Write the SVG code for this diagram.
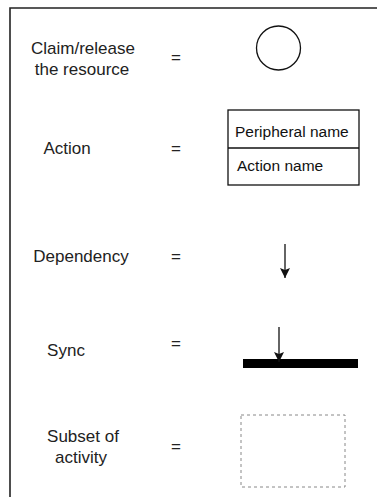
<svg xmlns="http://www.w3.org/2000/svg" width="377" height="497" viewBox="0 0 377 497">
  <style>
    .lbl { font-family: "Liberation Sans", Arial, sans-serif; font-size: 17px; fill: #222; text-anchor: middle; }
    .box { font-family: "Liberation Sans", Arial, sans-serif; font-size: 15.5px; fill: #111; }
    .frame { stroke: #222; stroke-width: 1.6; fill: none; }
    .edge { stroke: #111; stroke-width: 1.3; fill: none; }
  </style>
  <defs>
    <marker id="arrow" markerUnits="userSpaceOnUse" markerWidth="12" markerHeight="12" viewBox="0 0 12 12" refX="11" refY="6" orient="auto">
      <path d="M1,1 L11,6 L1,11 L3,6 Z" fill="#111"/>
    </marker>
  </defs>

  <rect x="0" y="0" width="377" height="497" fill="#fff"/>

  <!-- page frame (top and left edges) -->
  <path class="frame" d="M10,497 V8 H377"/>

  <!-- legend labels -->
  <g id="label-claim">
    <text class="lbl" x="83" y="54">Claim/release</text>
    <text class="lbl" x="82" y="75">the resource</text>
    <text class="lbl" x="176" y="63">=</text>
  </g>
  <g id="label-action">
    <text class="lbl" x="67" y="154">Action</text>
    <text class="lbl" x="176" y="154">=</text>
  </g>
  <g id="label-dependency">
    <text class="lbl" x="81" y="262">Dependency</text>
    <text class="lbl" x="176" y="262">=</text>
  </g>
  <g id="label-sync">
    <text class="lbl" x="66" y="356">Sync</text>
    <text class="lbl" x="176" y="349">=</text>
  </g>
  <g id="label-subset">
    <text class="lbl" x="83" y="442">Subset of</text>
    <text class="lbl" x="81" y="463">activity</text>
    <text class="lbl" x="176" y="452">=</text>
  </g>

  <!-- symbols -->
  <g id="resource">
    <circle cx="278.5" cy="48" r="22" fill="#fff" stroke="#111" stroke-width="1.3"/>
  </g>
  <g id="action">
    <rect x="228" y="110" width="131" height="75" fill="#fff" stroke="#111" stroke-width="1.3"/>
    <line x1="228" y1="148" x2="359" y2="148" stroke="#111" stroke-width="1.3"/>
    <text class="box" x="235" y="136.5">Peripheral name</text>
    <text class="box" x="237" y="170.5">Action name</text>
  </g>
  <g id="sync-bar">
    <rect x="243" y="359" width="115" height="9" fill="#000"/>
  </g>
  <g id="subset">
    <rect x="241" y="415" width="104" height="72" fill="none" stroke="#888" stroke-width="1" stroke-dasharray="3,3"/>
  </g>

  <!-- connectors -->
  <g id="connectors">
    <line class="edge" x1="285" y1="244" x2="285" y2="278" marker-end="url(#arrow)"/>
    <line class="edge" x1="279" y1="327" x2="279" y2="362" marker-end="url(#arrow)"/>
  </g>
</svg>
